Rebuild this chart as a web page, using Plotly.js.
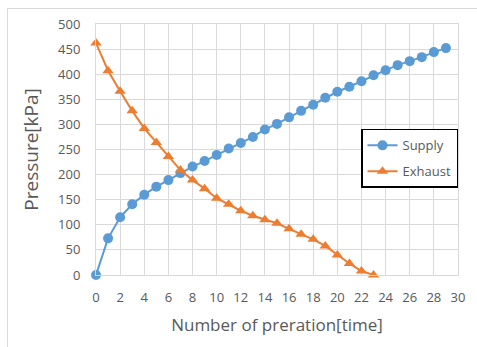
<!DOCTYPE html>
<html>
<head>
<meta charset="utf-8">
<script src="https://cdn.plot.ly/plotly-3.0.1.min.js"></script>
<style>
  html, body { margin: 0; padding: 0; background: #ffffff; }
  #wrap { position: relative; width: 477px; height: 347px; overflow: hidden; }
  #chart { width: 477px; height: 347px; }
  #frame { position: absolute; left: 7px; top: 8px; width: 480px; height: 350px;
           border-left: 1px solid #d9d9d9; border-top: 1px solid #d9d9d9; pointer-events: none; }
</style>
</head>
<body>
<div id="wrap">
  <div id="chart"></div>
  <div id="frame"></div>
</div>
<script>
const supplyX = [0,1,2,3,4,5,6,7,8,9,10,11,12,13,14,15,16,17,18,19,20,21,22,23,24,25,26,27,28,29];
const supplyY = [0,73,115,141,160,176,189,203,216,227,239,252,263,275,290,301,314,327,339,353,365,375,386,398,408,418,426,434,444,452];
const exhaustX = [0,1,2,3,4,5,6,7,8,9,10,11,12,13,14,15,16,17,18,19,20,21,22,23];
const exhaustY = [462,407,366,327,292,264,236,209,189,172,153,141,128,118,110,103,92,81,71,58,40,23,8,0];
const xTicks = [0,2,4,6,8,10,12,14,16,18,20,22,24,26,28,30];
const yTicks = [0,50,100,150,200,250,300,350,400,450,500];

const FONT = '"Open Sans", "Noto Sans", sans-serif';

const traces = [
  {
    x: supplyX, y: supplyY, name: 'Supply', type: 'scatter', mode: 'lines+markers',
    legendgroup: 'a',
    line: { color: '#5B9BD5', width: 2 },
    marker: { symbol: 'circle', size: 10, color: '#5B9BD5' },
    cliponaxis: false
  },
  {
    x: exhaustX, y: exhaustY, name: 'Exhaust', type: 'scatter', mode: 'lines+markers',
    legendgroup: 'b',
    line: { color: '#ED7D31', width: 2 },
    marker: { symbol: 'triangle-up', size: 10, color: '#ED7D31' },
    cliponaxis: false
  }
];

const layout = {
  width: 477, height: 347,
  margin: { l: 96, r: 19, t: 24, b: 72 },
  paper_bgcolor: '#ffffff',
  plot_bgcolor: '#ffffff',
  font: { family: FONT, color: '#595959', size: 13 },
  showlegend: true,
  legend: {
    x: 1, xanchor: 'right', y: 0.582, yanchor: 'top',
    bgcolor: '#ffffff', bordercolor: '#000000', borderwidth: 1.5,
    font: { family: FONT, size: 13, color: '#595959' },
    tracegroupgap: 6,
    itemwidth: 30
  },
  xaxis: {
    range: [0, 30], tickvals: xTicks, ticktext: xTicks.map(String),
    showgrid: true, gridcolor: '#d9d9d9', gridwidth: 1,
    zeroline: false, showline: true, linecolor: '#d9d9d9', mirror: true,
    ticks: '', ticklabelstandoff: 10,
    tickfont: { family: FONT, size: 13, color: '#595959' },
    title: { text: 'Number of preration[time]', font: { family: FONT, size: 17, color: '#595959' }, standoff: 14 }
  },
  yaxis: {
    range: [0, 500], tickvals: yTicks, ticktext: yTicks.map(String),
    showgrid: true, gridcolor: '#d9d9d9', gridwidth: 1,
    zeroline: false, showline: true, linecolor: '#d9d9d9', mirror: true,
    ticks: '', ticklabelstandoff: 12,
    tickfont: { family: FONT, size: 13, color: '#595959' },
    title: { text: 'Pressure[kPa]', font: { family: FONT, size: 19, color: '#595959' }, standoff: 14 }
  }
};

Plotly.newPlot('chart', traces, layout, { displayModeBar: false, staticPlot: true });
</script>
</body>
</html>
